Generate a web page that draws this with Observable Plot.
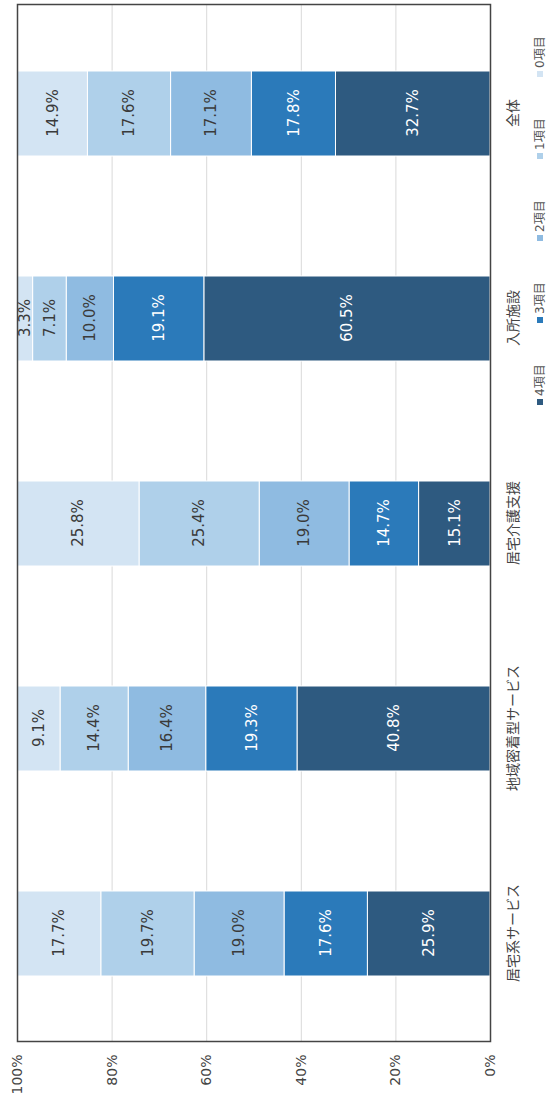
<!DOCTYPE html>
<html><head><meta charset="utf-8">
<script src="https://cdn.jsdelivr.net/npm/d3@7"></script>
<script src="https://cdn.jsdelivr.net/npm/@observablehq/plot@0.6"></script>
<style>
html,body{margin:0;padding:0;background:#fff;overflow:hidden;width:549px;height:1095px;}
#rot{position:absolute;left:0;top:0;width:1095px;height:549px;transform-origin:0 0;transform:translate(0,1095px) rotate(-90deg);background:#fff;overflow:hidden;}
#legend{position:relative;height:14px;margin-top:0px;font:12px "DejaVu Sans","Noto Sans CJK JP",sans-serif;color:#555;white-space:nowrap;}
.item{position:absolute;top:0;display:flex;align-items:center;height:14px;line-height:14px;}
.sw{width:6px;height:6px;margin-right:3px;display:inline-block;}
</style></head><body><div id="rot"><div id="chart"></div><div id="legend"></div></div>
<script>
const categories = ["居宅系サービス", "地域密着型サービス", "居宅介護支援", "入所施設", "全体"];
const series = ["4項目", "3項目", "2項目", "1項目", "0項目"];
const values4 = [25.9, 40.8, 15.1, 60.5, 32.7];
const values3 = [17.6, 19.3, 14.7, 19.1, 17.8];
const values2 = [19.0, 16.4, 19.0, 10.0, 17.1];
const values1 = [19.7, 14.4, 25.4, 7.1, 17.6];
const values0 = [17.7, 9.1, 25.8, 3.3, 14.9];
const seriesColors = ["#2e5a80", "#2b7aba", "#8fbbe1", "#afd0ea", "#d3e4f3"];
const labelColors = ["#ffffff", "#ffffff", "#3a3a3a", "#3a3a3a", "#3a3a3a"];
const percentTicks = [0, 0.2, 0.4, 0.6, 0.8, 1];

const valuesBySeries = [values4, values3, values2, values1, values0];
const data = series.flatMap((s, i) => categories.map((c, j) => ({
  category: c, series: s, value: valuesBySeries[i][j], color: seriesColors[i], textColor: labelColors[i]
})));

const chart = Plot.plot({
  width: 1095, height: 533,
  marginTop: 17, marginBottom: 43, marginLeft: 53, marginRight: 5,
  style: {fontFamily: '"DejaVu Sans","Noto Sans CJK JP",sans-serif', fontSize: "15px", color: "#3a3a3a", background: "#fff"},
  x: {domain: categories, paddingInner: 0.583, paddingOuter: 0.32},
  y: {domain: [0, 1]},
  color: {type: "identity"},
  marks: [
    Plot.gridY(percentTicks.slice(1, -1), {stroke: "#d9d9d9", strokeOpacity: 1}),
    Plot.barY(data, Plot.stackY({x: "category", y: "value", z: "series", fill: "color", offset: "normalize", stroke: "white", strokeWidth: 1})),
    Plot.text(data, Plot.stackY({x: "category", y: "value", z: "series", offset: "normalize", text: d => d.value.toFixed(1) + "%", fill: "textColor", fontSize: 15})),
    Plot.frame({stroke: "#444", strokeWidth: 1.5}),
    Plot.axisY(percentTicks, {tickSize: 0, tickPadding: 13, tickFormat: d => Math.round(d * 100) + "%", fontSize: 14, fill: "#444", label: null}),
    Plot.axisX({tickSize: 0, tickPadding: 18, fontSize: 14, fill: "#444", label: null})
  ]
});
document.getElementById("chart").appendChild(chart);

const legend = d3.select("#legend");
series.forEach((s, i) => {
  const item = legend.append("div").attr("class", "item").style("left", (690 + i * 82) + "px");
  item.append("span").attr("class", "sw").style("background", seriesColors[i]);
  item.append("span").text(s);
});
</script>
</body></html>
